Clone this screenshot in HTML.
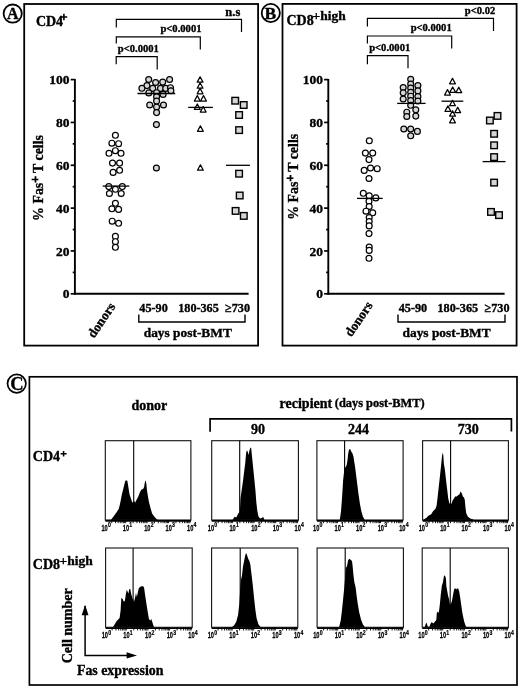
<!DOCTYPE html><html><head><meta charset="utf-8"><style>html,body{margin:0;padding:0;background:#fff;overflow:hidden}svg{display:block;filter:grayscale(1)}text{font-family:"Liberation Serif",serif;font-weight:bold;fill:#000;stroke:#000;stroke-width:0.35px}.s{font-family:"Liberation Sans",sans-serif;font-weight:bold;stroke-width:0.25px}</style></head><body>
<svg width="520" height="688" viewBox="0 0 520 688">
<rect width="520" height="688" fill="#fff"/>
<rect x="24.2" y="4" width="233.9" height="341.6" fill="none" stroke="#000" stroke-width="1.8"/>
<circle cx="12.7" cy="13.6" r="9.1" fill="#fff" stroke="#000" stroke-width="1.8"/>
<text x="12.70" y="18.90" font-size="16" text-anchor="middle" >A</text>
<text x="35.90" y="26.10" font-size="14" text-anchor="start" >CD4</text>
<path d="M60.6 17H67.2M63.9 13.8V20.2" stroke="#000" stroke-width="1.6"/>
<path d="M74.90 79.00L74.90 294.70" stroke="#000" stroke-width="1.9" fill="none"/>
<path d="M74.00 293.80L248.60 293.80" stroke="#000" stroke-width="1.9" fill="none"/>
<path d="M70.70 293.80L74.90 293.80" stroke="#000" stroke-width="1.7" fill="none"/>
<text x="69.60" y="298.40" font-size="13.5" text-anchor="end" >0</text>
<path d="M70.70 250.96L74.90 250.96" stroke="#000" stroke-width="1.7" fill="none"/>
<text x="69.60" y="255.56" font-size="13.5" text-anchor="end" >20</text>
<path d="M70.70 208.12L74.90 208.12" stroke="#000" stroke-width="1.7" fill="none"/>
<text x="69.60" y="212.72" font-size="13.5" text-anchor="end" >40</text>
<path d="M70.70 165.28L74.90 165.28" stroke="#000" stroke-width="1.7" fill="none"/>
<text x="69.60" y="169.88" font-size="13.5" text-anchor="end" >60</text>
<path d="M70.70 122.44L74.90 122.44" stroke="#000" stroke-width="1.7" fill="none"/>
<text x="69.60" y="127.04" font-size="13.5" text-anchor="end" >80</text>
<path d="M70.70 79.60L74.90 79.60" stroke="#000" stroke-width="1.7" fill="none"/>
<text x="69.60" y="84.20" font-size="13.5" text-anchor="end" >100</text>
<path d="M72.70 272.38L74.90 272.38" stroke="#000" stroke-width="1.7" fill="none"/>
<path d="M72.70 229.54L74.90 229.54" stroke="#000" stroke-width="1.7" fill="none"/>
<path d="M72.70 186.70L74.90 186.70" stroke="#000" stroke-width="1.7" fill="none"/>
<path d="M72.70 143.86L74.90 143.86" stroke="#000" stroke-width="1.7" fill="none"/>
<path d="M72.70 101.02L74.90 101.02" stroke="#000" stroke-width="1.7" fill="none"/>
<text transform="translate(43.4,178.0) rotate(-90)" font-size="13.9" text-anchor="middle">% Fas<tspan dy="-4.2" font-size="11.5" style="stroke-width:0.9px">+</tspan><tspan dy="4.2"> T cells</tspan></text>
<path d="M116.30 27.50L116.30 19.40L241.50 19.40L241.50 31.90" stroke="#000" stroke-width="1.2" fill="none"/>
<text x="240.30" y="15.80" font-size="12.5" text-anchor="end" >n.s</text>
<path d="M116.30 43.50L116.30 36.80L200.30 36.80L200.30 49.60" stroke="#000" stroke-width="1.2" fill="none"/>
<text x="201.50" y="32.20" font-size="10.6" text-anchor="end" >p&lt;0.0001</text>
<path d="M116.20 64.30L116.20 56.60L157.20 56.60L157.20 69.50" stroke="#000" stroke-width="1.2" fill="none"/>
<text x="117.80" y="51.50" font-size="10.6" text-anchor="start" >p&lt;0.0001</text>
<circle cx="115.4" cy="135.3" r="2.95" fill="#fff" stroke="#000" stroke-width="1.2"/>
<circle cx="111.9" cy="143.2" r="2.95" fill="#fff" stroke="#000" stroke-width="1.2"/>
<circle cx="118.6" cy="143.7" r="2.95" fill="#fff" stroke="#000" stroke-width="1.2"/>
<circle cx="115.4" cy="150.7" r="2.95" fill="#fff" stroke="#000" stroke-width="1.2"/>
<circle cx="109.0" cy="153.3" r="2.95" fill="#fff" stroke="#000" stroke-width="1.2"/>
<circle cx="121.0" cy="153.3" r="2.95" fill="#fff" stroke="#000" stroke-width="1.2"/>
<circle cx="112.5" cy="163.1" r="2.95" fill="#fff" stroke="#000" stroke-width="1.2"/>
<circle cx="119.6" cy="163.1" r="2.95" fill="#fff" stroke="#000" stroke-width="1.2"/>
<circle cx="119.6" cy="170.3" r="2.95" fill="#fff" stroke="#000" stroke-width="1.2"/>
<circle cx="113.1" cy="172.4" r="2.95" fill="#fff" stroke="#000" stroke-width="1.2"/>
<circle cx="108.8" cy="186.6" r="2.95" fill="#fff" stroke="#000" stroke-width="1.2"/>
<circle cx="122.3" cy="186.6" r="2.95" fill="#fff" stroke="#000" stroke-width="1.2"/>
<circle cx="115.4" cy="189.3" r="2.95" fill="#fff" stroke="#000" stroke-width="1.2"/>
<circle cx="109.4" cy="193.5" r="2.95" fill="#fff" stroke="#000" stroke-width="1.2"/>
<circle cx="121.2" cy="193.5" r="2.95" fill="#fff" stroke="#000" stroke-width="1.2"/>
<circle cx="115.4" cy="203.3" r="2.95" fill="#fff" stroke="#000" stroke-width="1.2"/>
<circle cx="111.9" cy="208.8" r="2.95" fill="#fff" stroke="#000" stroke-width="1.2"/>
<circle cx="118.6" cy="209.4" r="2.95" fill="#fff" stroke="#000" stroke-width="1.2"/>
<circle cx="112.2" cy="221.2" r="2.95" fill="#fff" stroke="#000" stroke-width="1.2"/>
<circle cx="118.6" cy="223.3" r="2.95" fill="#fff" stroke="#000" stroke-width="1.2"/>
<circle cx="115.4" cy="236.4" r="2.95" fill="#fff" stroke="#000" stroke-width="1.2"/>
<circle cx="115.4" cy="241.7" r="2.95" fill="#fff" stroke="#000" stroke-width="1.2"/>
<circle cx="115.4" cy="247.3" r="2.95" fill="#fff" stroke="#000" stroke-width="1.2"/>
<path d="M102.70 186.10L129.30 186.10" stroke="#000" stroke-width="1.3" fill="none"/>
<circle cx="148.7" cy="79.5" r="2.95" fill="#d6d6d6" stroke="#000" stroke-width="1.2"/>
<circle cx="169.6" cy="79.5" r="2.95" fill="#d6d6d6" stroke="#000" stroke-width="1.2"/>
<circle cx="155.6" cy="82.5" r="2.95" fill="#d6d6d6" stroke="#000" stroke-width="1.2"/>
<circle cx="162.7" cy="82.1" r="2.95" fill="#d6d6d6" stroke="#000" stroke-width="1.2"/>
<circle cx="146.9" cy="85.6" r="2.95" fill="#d6d6d6" stroke="#000" stroke-width="1.2"/>
<circle cx="141.9" cy="88.3" r="2.95" fill="#d6d6d6" stroke="#000" stroke-width="1.2"/>
<circle cx="152.7" cy="88.4" r="2.95" fill="#d6d6d6" stroke="#000" stroke-width="1.2"/>
<circle cx="160.5" cy="88.4" r="2.95" fill="#d6d6d6" stroke="#000" stroke-width="1.2"/>
<circle cx="165.7" cy="88.4" r="2.95" fill="#d6d6d6" stroke="#000" stroke-width="1.2"/>
<circle cx="170.5" cy="87.7" r="2.95" fill="#d6d6d6" stroke="#000" stroke-width="1.2"/>
<circle cx="170.9" cy="90.8" r="2.95" fill="#d6d6d6" stroke="#000" stroke-width="1.2"/>
<circle cx="148.8" cy="92.9" r="2.95" fill="#d6d6d6" stroke="#000" stroke-width="1.2"/>
<circle cx="156.6" cy="92.7" r="2.95" fill="#d6d6d6" stroke="#000" stroke-width="1.2"/>
<circle cx="163.1" cy="94.4" r="2.95" fill="#d6d6d6" stroke="#000" stroke-width="1.2"/>
<circle cx="156.6" cy="96.8" r="2.95" fill="#d6d6d6" stroke="#000" stroke-width="1.2"/>
<circle cx="156.6" cy="101.1" r="2.95" fill="#d6d6d6" stroke="#000" stroke-width="1.2"/>
<circle cx="149.7" cy="105.0" r="2.95" fill="#d6d6d6" stroke="#000" stroke-width="1.2"/>
<circle cx="163.5" cy="105.0" r="2.95" fill="#d6d6d6" stroke="#000" stroke-width="1.2"/>
<circle cx="156.6" cy="107.0" r="2.95" fill="#d6d6d6" stroke="#000" stroke-width="1.2"/>
<circle cx="156.6" cy="112.6" r="2.95" fill="#d6d6d6" stroke="#000" stroke-width="1.2"/>
<circle cx="156.4" cy="124.6" r="2.95" fill="#d6d6d6" stroke="#000" stroke-width="1.2"/>
<circle cx="156.4" cy="168.0" r="2.95" fill="#d6d6d6" stroke="#000" stroke-width="1.2"/>
<path d="M137.50 93.50L175.20 93.50" stroke="#000" stroke-width="1.3" fill="none"/>
<path d="M200.1 76.7L203.0 82.1L197.2 82.1Z" fill="#fff" stroke="#000" stroke-width="1.25" stroke-linejoin="round"/>
<path d="M200.1 82.8L203.0 88.2L197.2 88.2Z" fill="#fff" stroke="#000" stroke-width="1.25" stroke-linejoin="round"/>
<path d="M200.1 88.4L203.0 93.8L197.2 93.8Z" fill="#fff" stroke="#000" stroke-width="1.25" stroke-linejoin="round"/>
<path d="M197.3 95.6L200.2 101.0L194.4 101.0Z" fill="#fff" stroke="#000" stroke-width="1.25" stroke-linejoin="round"/>
<path d="M203.5 95.6L206.4 101.0L200.6 101.0Z" fill="#fff" stroke="#000" stroke-width="1.25" stroke-linejoin="round"/>
<path d="M197.3 104.0L200.2 109.4L194.4 109.4Z" fill="#fff" stroke="#000" stroke-width="1.25" stroke-linejoin="round"/>
<path d="M203.2 106.6L206.1 112.0L200.3 112.0Z" fill="#fff" stroke="#000" stroke-width="1.25" stroke-linejoin="round"/>
<path d="M200.4 125.9L203.3 131.3L197.5 131.3Z" fill="#fff" stroke="#000" stroke-width="1.25" stroke-linejoin="round"/>
<path d="M200.4 164.8L203.3 170.2L197.5 170.2Z" fill="#fff" stroke="#000" stroke-width="1.25" stroke-linejoin="round"/>
<path d="M188.20 107.40L212.90 107.40" stroke="#000" stroke-width="1.3" fill="none"/>
<rect x="231.9" y="97.4" width="6.6" height="6.6" fill="#d6d6d6" stroke="#000" stroke-width="1.4"/>
<rect x="240.4" y="101.7" width="6.6" height="6.6" fill="#d6d6d6" stroke="#000" stroke-width="1.4"/>
<rect x="235.8" y="111.7" width="6.6" height="6.6" fill="#d6d6d6" stroke="#000" stroke-width="1.4"/>
<rect x="235.8" y="126.8" width="6.6" height="6.6" fill="#d6d6d6" stroke="#000" stroke-width="1.4"/>
<rect x="235.8" y="170.4" width="6.6" height="6.6" fill="#d6d6d6" stroke="#000" stroke-width="1.4"/>
<rect x="236.4" y="192.2" width="6.6" height="6.6" fill="#d6d6d6" stroke="#000" stroke-width="1.4"/>
<rect x="232.3" y="207.6" width="6.6" height="6.6" fill="#d6d6d6" stroke="#000" stroke-width="1.4"/>
<rect x="240.5" y="212.6" width="6.6" height="6.6" fill="#d6d6d6" stroke="#000" stroke-width="1.4"/>
<path d="M226.00 165.30L249.90 165.30" stroke="#000" stroke-width="1.3" fill="none"/>
<text transform="translate(101.2,320.1) rotate(-56)" font-size="13.2" text-anchor="middle" dominant-baseline="central">donors</text>
<text x="139.30" y="312.30" font-size="12.2" text-anchor="start" >45-90</text>
<text x="178.20" y="312.30" font-size="12.2" text-anchor="start" >180-365</text>
<text x="225.00" y="312.30" font-size="12.2" text-anchor="start" >≥730</text>
<path d="M138.80 314.40L138.80 322.00L245.00 322.00L245.00 314.40" stroke="#000" stroke-width="1.4" fill="none"/>
<text x="143.70" y="337.40" font-size="13.4" text-anchor="start" >days post-BMT</text>
<rect x="282.5" y="3.9" width="234.1" height="341.7" fill="none" stroke="#000" stroke-width="1.8"/>
<circle cx="270.8" cy="13" r="9.1" fill="#fff" stroke="#000" stroke-width="1.8"/>
<text x="270.40" y="18.80" font-size="17.5" text-anchor="middle" >B</text>
<text x="286.50" y="24.50" font-size="14" text-anchor="start" >CD8</text>
<text x="312.60" y="19.50" font-size="13.5" text-anchor="start" >+high</text>
<path d="M328.30 79.00L328.30 294.70" stroke="#000" stroke-width="1.9" fill="none"/>
<path d="M327.40 293.80L504.60 293.80" stroke="#000" stroke-width="1.9" fill="none"/>
<path d="M324.10 293.80L328.30 293.80" stroke="#000" stroke-width="1.7" fill="none"/>
<text x="323.00" y="298.40" font-size="13.5" text-anchor="end" >0</text>
<path d="M324.10 250.96L328.30 250.96" stroke="#000" stroke-width="1.7" fill="none"/>
<text x="323.00" y="255.56" font-size="13.5" text-anchor="end" >20</text>
<path d="M324.10 208.12L328.30 208.12" stroke="#000" stroke-width="1.7" fill="none"/>
<text x="323.00" y="212.72" font-size="13.5" text-anchor="end" >40</text>
<path d="M324.10 165.28L328.30 165.28" stroke="#000" stroke-width="1.7" fill="none"/>
<text x="323.00" y="169.88" font-size="13.5" text-anchor="end" >60</text>
<path d="M324.10 122.44L328.30 122.44" stroke="#000" stroke-width="1.7" fill="none"/>
<text x="323.00" y="127.04" font-size="13.5" text-anchor="end" >80</text>
<path d="M324.10 79.60L328.30 79.60" stroke="#000" stroke-width="1.7" fill="none"/>
<text x="323.00" y="84.20" font-size="13.5" text-anchor="end" >100</text>
<path d="M326.10 272.38L328.30 272.38" stroke="#000" stroke-width="1.7" fill="none"/>
<path d="M326.10 229.54L328.30 229.54" stroke="#000" stroke-width="1.7" fill="none"/>
<path d="M326.10 186.70L328.30 186.70" stroke="#000" stroke-width="1.7" fill="none"/>
<path d="M326.10 143.86L328.30 143.86" stroke="#000" stroke-width="1.7" fill="none"/>
<path d="M326.10 101.02L328.30 101.02" stroke="#000" stroke-width="1.7" fill="none"/>
<text transform="translate(298.4,176.8) rotate(-90)" font-size="13.9" text-anchor="middle">% Fas<tspan dy="-4.2" font-size="11.5" style="stroke-width:0.9px">+</tspan><tspan dy="4.2"> T cells</tspan></text>
<path d="M367.40 26.50L367.40 18.40L493.50 18.40L493.50 31.10" stroke="#000" stroke-width="1.2" fill="none"/>
<text x="495.30" y="13.80" font-size="10.6" text-anchor="end" >p&lt;0.02</text>
<path d="M367.40 43.40L367.40 36.00L451.70 36.00L451.70 48.40" stroke="#000" stroke-width="1.2" fill="none"/>
<text x="451.70" y="30.70" font-size="10.6" text-anchor="end" >p&lt;0.0001</text>
<path d="M367.40 64.20L367.40 55.70L408.00 55.70L408.00 68.30" stroke="#000" stroke-width="1.2" fill="none"/>
<text x="369.20" y="51.20" font-size="10.6" text-anchor="start" >p&lt;0.0001</text>
<circle cx="369.3" cy="140.8" r="2.95" fill="#fff" stroke="#000" stroke-width="1.2"/>
<circle cx="365.4" cy="153.1" r="2.95" fill="#fff" stroke="#000" stroke-width="1.2"/>
<circle cx="372.7" cy="153.1" r="2.95" fill="#fff" stroke="#000" stroke-width="1.2"/>
<circle cx="369.0" cy="159.6" r="2.95" fill="#fff" stroke="#000" stroke-width="1.2"/>
<circle cx="364.2" cy="170.4" r="2.95" fill="#fff" stroke="#000" stroke-width="1.2"/>
<circle cx="370.5" cy="168.0" r="2.95" fill="#fff" stroke="#000" stroke-width="1.2"/>
<circle cx="377.2" cy="168.7" r="2.95" fill="#fff" stroke="#000" stroke-width="1.2"/>
<circle cx="369.0" cy="178.5" r="2.95" fill="#fff" stroke="#000" stroke-width="1.2"/>
<circle cx="363.3" cy="193.3" r="2.95" fill="#fff" stroke="#000" stroke-width="1.2"/>
<circle cx="369.2" cy="195.8" r="2.95" fill="#fff" stroke="#000" stroke-width="1.2"/>
<circle cx="375.8" cy="197.9" r="2.95" fill="#fff" stroke="#000" stroke-width="1.2"/>
<circle cx="369.0" cy="201.3" r="2.95" fill="#fff" stroke="#000" stroke-width="1.2"/>
<circle cx="369.2" cy="206.5" r="2.95" fill="#fff" stroke="#000" stroke-width="1.2"/>
<circle cx="366.0" cy="211.2" r="2.95" fill="#fff" stroke="#000" stroke-width="1.2"/>
<circle cx="372.7" cy="212.8" r="2.95" fill="#fff" stroke="#000" stroke-width="1.2"/>
<circle cx="369.2" cy="217.5" r="2.95" fill="#fff" stroke="#000" stroke-width="1.2"/>
<circle cx="369.2" cy="221.5" r="2.95" fill="#fff" stroke="#000" stroke-width="1.2"/>
<circle cx="369.2" cy="225.9" r="2.95" fill="#fff" stroke="#000" stroke-width="1.2"/>
<circle cx="369.0" cy="233.6" r="2.95" fill="#fff" stroke="#000" stroke-width="1.2"/>
<circle cx="369.2" cy="247.0" r="2.95" fill="#fff" stroke="#000" stroke-width="1.2"/>
<circle cx="369.2" cy="250.4" r="2.95" fill="#fff" stroke="#000" stroke-width="1.2"/>
<circle cx="369.0" cy="258.3" r="2.95" fill="#fff" stroke="#000" stroke-width="1.2"/>
<path d="M357.00 198.40L382.70 198.40" stroke="#000" stroke-width="1.3" fill="none"/>
<circle cx="410.7" cy="79.3" r="2.95" fill="#d6d6d6" stroke="#000" stroke-width="1.2"/>
<circle cx="410.7" cy="84.1" r="2.95" fill="#d6d6d6" stroke="#000" stroke-width="1.2"/>
<circle cx="410.7" cy="88.0" r="2.95" fill="#d6d6d6" stroke="#000" stroke-width="1.2"/>
<circle cx="410.7" cy="92.3" r="2.95" fill="#d6d6d6" stroke="#000" stroke-width="1.2"/>
<circle cx="410.7" cy="96.2" r="2.95" fill="#d6d6d6" stroke="#000" stroke-width="1.2"/>
<circle cx="410.7" cy="100.5" r="2.95" fill="#d6d6d6" stroke="#000" stroke-width="1.2"/>
<circle cx="410.7" cy="105.3" r="2.95" fill="#d6d6d6" stroke="#000" stroke-width="1.2"/>
<circle cx="403.2" cy="87.5" r="2.95" fill="#d6d6d6" stroke="#000" stroke-width="1.2"/>
<circle cx="403.2" cy="92.8" r="2.95" fill="#d6d6d6" stroke="#000" stroke-width="1.2"/>
<circle cx="403.2" cy="99.0" r="2.95" fill="#d6d6d6" stroke="#000" stroke-width="1.2"/>
<circle cx="417.9" cy="85.6" r="2.95" fill="#d6d6d6" stroke="#000" stroke-width="1.2"/>
<circle cx="417.9" cy="90.9" r="2.95" fill="#d6d6d6" stroke="#000" stroke-width="1.2"/>
<circle cx="417.9" cy="96.6" r="2.95" fill="#d6d6d6" stroke="#000" stroke-width="1.2"/>
<circle cx="417.9" cy="101.0" r="2.95" fill="#d6d6d6" stroke="#000" stroke-width="1.2"/>
<circle cx="406.8" cy="112.2" r="2.95" fill="#d6d6d6" stroke="#000" stroke-width="1.2"/>
<circle cx="406.8" cy="116.5" r="2.95" fill="#d6d6d6" stroke="#000" stroke-width="1.2"/>
<circle cx="415.8" cy="109.8" r="2.95" fill="#d6d6d6" stroke="#000" stroke-width="1.2"/>
<circle cx="415.8" cy="116.1" r="2.95" fill="#d6d6d6" stroke="#000" stroke-width="1.2"/>
<circle cx="403.8" cy="129.0" r="2.95" fill="#d6d6d6" stroke="#000" stroke-width="1.2"/>
<circle cx="410.7" cy="129.0" r="2.95" fill="#d6d6d6" stroke="#000" stroke-width="1.2"/>
<circle cx="417.4" cy="131.4" r="2.95" fill="#d6d6d6" stroke="#000" stroke-width="1.2"/>
<circle cx="410.7" cy="135.8" r="2.95" fill="#d6d6d6" stroke="#000" stroke-width="1.2"/>
<path d="M397.20 103.40L425.60 103.40" stroke="#000" stroke-width="1.3" fill="none"/>
<path d="M452.5 78.4L455.4 83.8L449.6 83.8Z" fill="#fff" stroke="#000" stroke-width="1.25" stroke-linejoin="round"/>
<path d="M452.7 87.0L455.6 92.4L449.8 92.4Z" fill="#fff" stroke="#000" stroke-width="1.25" stroke-linejoin="round"/>
<path d="M458.8 87.2L461.7 92.6L455.9 92.6Z" fill="#fff" stroke="#000" stroke-width="1.25" stroke-linejoin="round"/>
<path d="M447.5 89.6L450.4 95.0L444.6 95.0Z" fill="#fff" stroke="#000" stroke-width="1.25" stroke-linejoin="round"/>
<path d="M452.5 100.3L455.4 105.7L449.6 105.7Z" fill="#fff" stroke="#000" stroke-width="1.25" stroke-linejoin="round"/>
<path d="M447.9 105.9L450.8 111.3L445.0 111.3Z" fill="#fff" stroke="#000" stroke-width="1.25" stroke-linejoin="round"/>
<path d="M457.7 107.2L460.6 112.6L454.8 112.6Z" fill="#fff" stroke="#000" stroke-width="1.25" stroke-linejoin="round"/>
<path d="M452.5 110.7L455.4 116.1L449.6 116.1Z" fill="#fff" stroke="#000" stroke-width="1.25" stroke-linejoin="round"/>
<path d="M452.5 117.4L455.4 122.8L449.6 122.8Z" fill="#fff" stroke="#000" stroke-width="1.25" stroke-linejoin="round"/>
<path d="M441.50 101.20L463.30 101.20" stroke="#000" stroke-width="1.3" fill="none"/>
<rect x="494.2" y="112.6" width="6.6" height="6.6" fill="#d6d6d6" stroke="#000" stroke-width="1.4"/>
<rect x="486.6" y="117.2" width="6.6" height="6.6" fill="#d6d6d6" stroke="#000" stroke-width="1.4"/>
<rect x="490.8" y="130.5" width="6.6" height="6.6" fill="#d6d6d6" stroke="#000" stroke-width="1.4"/>
<rect x="490.8" y="142.0" width="6.6" height="6.6" fill="#d6d6d6" stroke="#000" stroke-width="1.4"/>
<rect x="490.8" y="153.8" width="6.6" height="6.6" fill="#d6d6d6" stroke="#000" stroke-width="1.4"/>
<rect x="490.8" y="179.3" width="6.6" height="6.6" fill="#d6d6d6" stroke="#000" stroke-width="1.4"/>
<rect x="487.7" y="208.6" width="6.6" height="6.6" fill="#d6d6d6" stroke="#000" stroke-width="1.4"/>
<rect x="495.7" y="211.8" width="6.6" height="6.6" fill="#d6d6d6" stroke="#000" stroke-width="1.4"/>
<path d="M482.60 161.60L505.50 161.60" stroke="#000" stroke-width="1.3" fill="none"/>
<text transform="translate(358.5,318.9) rotate(-56)" font-size="13.2" text-anchor="middle" dominant-baseline="central">donors</text>
<text x="398.70" y="312.30" font-size="12.2" text-anchor="start" >45-90</text>
<text x="437.50" y="312.30" font-size="12.2" text-anchor="start" >180-365</text>
<text x="484.50" y="312.30" font-size="12.2" text-anchor="start" >≥730</text>
<path d="M398.00 314.40L398.00 322.00L505.00 322.00L505.00 314.40" stroke="#000" stroke-width="1.4" fill="none"/>
<text x="402.50" y="337.40" font-size="13.4" text-anchor="start" >days post-BMT</text>
<rect x="29.4" y="376.8" width="487.6" height="308.2" fill="none" stroke="#000" stroke-width="1.7"/>
<circle cx="16.7" cy="383.6" r="9.2" fill="#fff" stroke="#000" stroke-width="1.7"/>
<text x="16.90" y="390.20" font-size="18.5" text-anchor="middle" >C</text>
<text x="131.50" y="410.20" font-size="14" text-anchor="start" >donor</text>
<text x="279.60" y="407.50" font-size="14" text-anchor="start" >recipient</text>
<text x="334.80" y="406.60" font-size="12.4" text-anchor="start" >(days post-BMT)</text>
<path d="M210.10 431.80L210.10 418.90L511.40 418.90L511.40 431.40" stroke="#000" stroke-width="1.7" fill="none"/>
<text x="258.00" y="434.20" font-size="14" text-anchor="middle" >90</text>
<text x="358.50" y="433.80" font-size="14" text-anchor="middle" >244</text>
<text x="468.30" y="433.90" font-size="14" text-anchor="middle" >730</text>
<text x="32.80" y="460.80" font-size="14" text-anchor="start" >CD4</text>
<path d="M60.6 453.7H66.6M63.6 450.9V456.4" stroke="#000" stroke-width="1.5"/>
<text x="32.80" y="569.30" font-size="14" text-anchor="start" >CD8</text>
<text x="59.50" y="564.80" font-size="13.5" text-anchor="start" >+high</text>
<path d="M110.80 520.00L110.80 520.00L113.50 516.50L116.60 512.30L118.70 509.10L119.80 504.90L120.90 499.60L121.90 494.30L123.50 488.00L125.10 481.60L125.60 480.60L127.20 480.60L127.70 482.70L128.50 488.00L129.50 494.30L130.90 498.60L132.00 501.70L133.00 502.80L134.10 500.70L135.10 502.80L136.70 499.60L138.30 496.40L139.90 492.20L141.50 489.60L143.10 489.00L144.10 486.90L145.00 481.60L145.70 480.60L146.50 484.80L146.80 489.00L147.80 495.40L148.90 501.70L150.50 508.10L152.10 513.40L154.20 516.50L156.80 519.20L158.00 520.00L158.00 520.00Z" fill="#000"/>
<rect x="105.30" y="440.70" width="85.60" height="79.30" fill="none" stroke="#111" stroke-width="1.1"/>
<path d="M133.70 440.70L133.70 520.00" stroke="#000" stroke-width="1.1" fill="none"/>
<path d="M111.74 520.00v3.2M115.51 520.00v3.2M118.18 520.00v3.2M120.26 520.00v3.2M121.95 520.00v3.2M123.39 520.00v3.2M124.63 520.00v3.2M125.72 520.00v3.2M133.14 520.00v3.2M136.91 520.00v3.2M139.58 520.00v3.2M141.66 520.00v3.2M143.35 520.00v3.2M144.79 520.00v3.2M146.03 520.00v3.2M147.12 520.00v3.2M154.54 520.00v3.2M158.31 520.00v3.2M160.98 520.00v3.2M163.06 520.00v3.2M164.75 520.00v3.2M166.19 520.00v3.2M167.43 520.00v3.2M168.52 520.00v3.2M175.94 520.00v3.2M179.71 520.00v3.2M182.38 520.00v3.2M184.46 520.00v3.2M186.15 520.00v3.2M187.59 520.00v3.2M188.83 520.00v3.2M189.92 520.00v3.2" stroke="#000" stroke-width="0.9"/>
<path d="M105.30 520.90L190.90 520.90" stroke="#000" stroke-width="1.6" fill="none"/>
<text class="s" transform="translate(101.40,531.00) scale(0.66 1)" font-size="8.6">10</text>
<text class="s" transform="translate(107.90,527.20) scale(0.72 1)" font-size="7.2">0</text>
<text class="s" transform="translate(122.80,531.00) scale(0.66 1)" font-size="8.6">10</text>
<text class="s" transform="translate(129.30,527.20) scale(0.72 1)" font-size="7.2">1</text>
<text class="s" transform="translate(144.20,531.00) scale(0.66 1)" font-size="8.6">10</text>
<text class="s" transform="translate(150.70,527.20) scale(0.72 1)" font-size="7.2">2</text>
<text class="s" transform="translate(165.60,531.00) scale(0.66 1)" font-size="8.6">10</text>
<text class="s" transform="translate(172.10,527.20) scale(0.72 1)" font-size="7.2">3</text>
<text class="s" transform="translate(187.00,531.00) scale(0.66 1)" font-size="8.6">10</text>
<text class="s" transform="translate(193.50,527.20) scale(0.72 1)" font-size="7.2">4</text>
<path d="M232.80 520.00L232.80 519.50L234.50 516.80L236.30 517.40L238.10 513.80L239.90 511.40L240.50 498.30L241.70 490.00L242.90 481.70L244.10 472.10L245.30 462.60L246.10 453.10L246.80 450.50L247.60 451.30L248.50 454.90L249.40 450.70L250.40 447.40L251.20 448.30L251.80 454.30L253.00 466.20L254.20 478.10L255.40 490.00L256.30 501.90L257.20 510.20L258.40 516.20L260.10 518.60L261.90 518.00L263.10 516.80L264.30 519.50L264.30 520.00Z" fill="#000"/>
<rect x="211.70" y="440.70" width="86.70" height="79.30" fill="none" stroke="#111" stroke-width="1.1"/>
<path d="M239.70 440.70L239.70 520.00" stroke="#000" stroke-width="1.1" fill="none"/>
<path d="M218.22 520.00v3.2M222.04 520.00v3.2M224.75 520.00v3.2M226.85 520.00v3.2M228.57 520.00v3.2M230.02 520.00v3.2M231.27 520.00v3.2M232.38 520.00v3.2M239.90 520.00v3.2M243.72 520.00v3.2M246.42 520.00v3.2M248.53 520.00v3.2M250.24 520.00v3.2M251.69 520.00v3.2M252.95 520.00v3.2M254.06 520.00v3.2M261.57 520.00v3.2M265.39 520.00v3.2M268.10 520.00v3.2M270.20 520.00v3.2M271.92 520.00v3.2M273.37 520.00v3.2M274.62 520.00v3.2M275.73 520.00v3.2M283.25 520.00v3.2M287.07 520.00v3.2M289.77 520.00v3.2M291.88 520.00v3.2M293.59 520.00v3.2M295.04 520.00v3.2M296.30 520.00v3.2M297.41 520.00v3.2" stroke="#000" stroke-width="0.9"/>
<path d="M211.70 520.90L298.40 520.90" stroke="#000" stroke-width="1.6" fill="none"/>
<text class="s" transform="translate(207.80,531.00) scale(0.66 1)" font-size="8.6">10</text>
<text class="s" transform="translate(214.30,527.20) scale(0.72 1)" font-size="7.2">0</text>
<text class="s" transform="translate(229.47,531.00) scale(0.66 1)" font-size="8.6">10</text>
<text class="s" transform="translate(235.97,527.20) scale(0.72 1)" font-size="7.2">1</text>
<text class="s" transform="translate(251.15,531.00) scale(0.66 1)" font-size="8.6">10</text>
<text class="s" transform="translate(257.65,527.20) scale(0.72 1)" font-size="7.2">2</text>
<text class="s" transform="translate(272.82,531.00) scale(0.66 1)" font-size="8.6">10</text>
<text class="s" transform="translate(279.32,527.20) scale(0.72 1)" font-size="7.2">3</text>
<text class="s" transform="translate(294.50,531.00) scale(0.66 1)" font-size="8.6">10</text>
<text class="s" transform="translate(301.00,527.20) scale(0.72 1)" font-size="7.2">4</text>
<path d="M339.80 520.00L339.80 519.50L341.00 511.40L342.10 497.10L343.10 480.50L343.90 473.30L344.50 467.40L345.50 467.40L346.70 465.00L347.50 460.20L348.10 454.30L349.00 449.50L350.20 448.90L351.10 451.30L352.60 453.70L353.50 456.70L354.00 460.20L355.00 466.20L356.20 475.70L357.40 485.20L358.60 494.80L360.00 504.30L361.40 511.40L363.00 516.80L364.50 519.50L364.50 520.00Z" fill="#000"/>
<rect x="316.90" y="440.70" width="86.20" height="79.30" fill="none" stroke="#111" stroke-width="1.1"/>
<path d="M344.60 440.70L344.60 520.00" stroke="#000" stroke-width="1.1" fill="none"/>
<path d="M323.39 520.00v3.2M327.18 520.00v3.2M329.87 520.00v3.2M331.96 520.00v3.2M333.67 520.00v3.2M335.11 520.00v3.2M336.36 520.00v3.2M337.46 520.00v3.2M344.94 520.00v3.2M348.73 520.00v3.2M351.42 520.00v3.2M353.51 520.00v3.2M355.22 520.00v3.2M356.66 520.00v3.2M357.91 520.00v3.2M359.01 520.00v3.2M366.49 520.00v3.2M370.28 520.00v3.2M372.97 520.00v3.2M375.06 520.00v3.2M376.77 520.00v3.2M378.21 520.00v3.2M379.46 520.00v3.2M380.56 520.00v3.2M388.04 520.00v3.2M391.83 520.00v3.2M394.52 520.00v3.2M396.61 520.00v3.2M398.32 520.00v3.2M399.76 520.00v3.2M401.01 520.00v3.2M402.11 520.00v3.2" stroke="#000" stroke-width="0.9"/>
<path d="M316.90 520.90L403.10 520.90" stroke="#000" stroke-width="1.6" fill="none"/>
<text class="s" transform="translate(313.00,531.00) scale(0.66 1)" font-size="8.6">10</text>
<text class="s" transform="translate(319.50,527.20) scale(0.72 1)" font-size="7.2">0</text>
<text class="s" transform="translate(334.55,531.00) scale(0.66 1)" font-size="8.6">10</text>
<text class="s" transform="translate(341.05,527.20) scale(0.72 1)" font-size="7.2">1</text>
<text class="s" transform="translate(356.10,531.00) scale(0.66 1)" font-size="8.6">10</text>
<text class="s" transform="translate(362.60,527.20) scale(0.72 1)" font-size="7.2">2</text>
<text class="s" transform="translate(377.65,531.00) scale(0.66 1)" font-size="8.6">10</text>
<text class="s" transform="translate(384.15,527.20) scale(0.72 1)" font-size="7.2">3</text>
<text class="s" transform="translate(399.20,531.00) scale(0.66 1)" font-size="8.6">10</text>
<text class="s" transform="translate(405.70,527.20) scale(0.72 1)" font-size="7.2">4</text>
<path d="M423.70 520.00L423.70 519.50L426.50 517.80L428.70 515.60L431.00 514.50L433.20 511.10L435.40 508.90L436.60 505.50L437.70 496.50L438.80 486.40L439.90 476.40L441.00 466.30L441.90 457.30L442.50 452.80L443.30 455.10L443.80 462.90L445.00 470.80L446.10 480.80L447.20 489.80L448.30 498.80L449.40 503.30L450.60 504.40L451.70 503.30L452.80 499.90L453.90 498.80L455.00 496.50L456.70 496.50L457.80 495.40L459.50 494.30L460.60 491.50L461.80 493.20L462.90 496.50L464.00 497.60L464.80 499.90L465.50 507.70L466.20 513.30L467.90 516.70L470.20 518.40L473.50 519.50L473.50 520.00Z" fill="#000"/>
<rect x="422.60" y="440.70" width="85.80" height="79.30" fill="none" stroke="#111" stroke-width="1.1"/>
<path d="M450.60 440.70L450.60 520.00" stroke="#000" stroke-width="1.1" fill="none"/>
<path d="M429.06 520.00v3.2M432.83 520.00v3.2M435.51 520.00v3.2M437.59 520.00v3.2M439.29 520.00v3.2M440.73 520.00v3.2M441.97 520.00v3.2M443.07 520.00v3.2M450.51 520.00v3.2M454.28 520.00v3.2M456.96 520.00v3.2M459.04 520.00v3.2M460.74 520.00v3.2M462.18 520.00v3.2M463.42 520.00v3.2M464.52 520.00v3.2M471.96 520.00v3.2M475.73 520.00v3.2M478.41 520.00v3.2M480.49 520.00v3.2M482.19 520.00v3.2M483.63 520.00v3.2M484.87 520.00v3.2M485.97 520.00v3.2M493.41 520.00v3.2M497.18 520.00v3.2M499.86 520.00v3.2M501.94 520.00v3.2M503.64 520.00v3.2M505.08 520.00v3.2M506.32 520.00v3.2M507.42 520.00v3.2" stroke="#000" stroke-width="0.9"/>
<path d="M422.60 520.90L508.40 520.90" stroke="#000" stroke-width="1.6" fill="none"/>
<text class="s" transform="translate(418.70,531.00) scale(0.66 1)" font-size="8.6">10</text>
<text class="s" transform="translate(425.20,527.20) scale(0.72 1)" font-size="7.2">0</text>
<text class="s" transform="translate(440.15,531.00) scale(0.66 1)" font-size="8.6">10</text>
<text class="s" transform="translate(446.65,527.20) scale(0.72 1)" font-size="7.2">1</text>
<text class="s" transform="translate(461.60,531.00) scale(0.66 1)" font-size="8.6">10</text>
<text class="s" transform="translate(468.10,527.20) scale(0.72 1)" font-size="7.2">2</text>
<text class="s" transform="translate(483.05,531.00) scale(0.66 1)" font-size="8.6">10</text>
<text class="s" transform="translate(489.55,527.20) scale(0.72 1)" font-size="7.2">3</text>
<text class="s" transform="translate(504.50,531.00) scale(0.66 1)" font-size="8.6">10</text>
<text class="s" transform="translate(511.00,527.20) scale(0.72 1)" font-size="7.2">4</text>
<path d="M112.90 627.30L112.90 627.20L116.70 621.00L119.60 618.10L120.60 610.40L121.30 597.90L122.50 598.80L123.90 601.70L124.90 600.80L125.90 594.00L126.80 589.70L127.80 592.10L128.50 593.60L129.20 589.20L130.20 588.80L131.20 594.00L132.60 598.80L134.00 601.70L135.20 596.90L136.00 593.10L136.90 596.90L137.90 592.10L138.80 588.30L140.30 586.80L141.70 586.20L143.20 586.30L144.10 587.80L145.10 595.00L146.10 601.70L147.50 610.40L148.90 619.00L150.40 620.50L151.30 619.00L152.30 621.90L153.80 626.70L155.20 627.30L155.20 627.30Z" fill="#000"/>
<rect x="105.60" y="548.00" width="86.60" height="79.30" fill="none" stroke="#111" stroke-width="1.1"/>
<path d="M133.10 548.00L133.10 627.30" stroke="#000" stroke-width="1.1" fill="none"/>
<path d="M112.12 627.30v3.2M115.93 627.30v3.2M118.63 627.30v3.2M120.73 627.30v3.2M122.45 627.30v3.2M123.90 627.30v3.2M125.15 627.30v3.2M126.26 627.30v3.2M133.77 627.30v3.2M137.58 627.30v3.2M140.28 627.30v3.2M142.38 627.30v3.2M144.10 627.30v3.2M145.55 627.30v3.2M146.80 627.30v3.2M147.91 627.30v3.2M155.42 627.30v3.2M159.23 627.30v3.2M161.93 627.30v3.2M164.03 627.30v3.2M165.75 627.30v3.2M167.20 627.30v3.2M168.45 627.30v3.2M169.56 627.30v3.2M177.07 627.30v3.2M180.88 627.30v3.2M183.58 627.30v3.2M185.68 627.30v3.2M187.40 627.30v3.2M188.85 627.30v3.2M190.10 627.30v3.2M191.21 627.30v3.2" stroke="#000" stroke-width="0.9"/>
<path d="M105.60 628.20L192.20 628.20" stroke="#000" stroke-width="1.6" fill="none"/>
<text class="s" transform="translate(101.70,638.30) scale(0.66 1)" font-size="8.6">10</text>
<text class="s" transform="translate(108.20,634.50) scale(0.72 1)" font-size="7.2">0</text>
<text class="s" transform="translate(123.35,638.30) scale(0.66 1)" font-size="8.6">10</text>
<text class="s" transform="translate(129.85,634.50) scale(0.72 1)" font-size="7.2">1</text>
<text class="s" transform="translate(145.00,638.30) scale(0.66 1)" font-size="8.6">10</text>
<text class="s" transform="translate(151.50,634.50) scale(0.72 1)" font-size="7.2">2</text>
<text class="s" transform="translate(166.65,638.30) scale(0.66 1)" font-size="8.6">10</text>
<text class="s" transform="translate(173.15,634.50) scale(0.72 1)" font-size="7.2">3</text>
<text class="s" transform="translate(188.30,638.30) scale(0.66 1)" font-size="8.6">10</text>
<text class="s" transform="translate(194.80,634.50) scale(0.72 1)" font-size="7.2">4</text>
<path d="M231.60 627.30L231.60 627.20L234.00 625.40L236.30 621.80L238.10 614.70L239.30 604.00L240.30 587.30L240.90 580.10L242.00 575.40L242.90 567.00L244.10 561.10L245.30 555.10L246.10 553.00L247.00 555.10L248.20 558.70L249.40 561.10L250.40 564.70L250.90 569.40L251.80 576.60L253.00 587.30L254.20 599.20L255.40 609.90L256.60 618.20L258.40 624.20L260.70 627.20L260.70 627.30Z" fill="#000"/>
<rect x="211.60" y="548.00" width="86.20" height="79.30" fill="none" stroke="#111" stroke-width="1.1"/>
<path d="M240.20 548.00L240.20 627.30" stroke="#000" stroke-width="1.1" fill="none"/>
<path d="M218.09 627.30v3.2M221.88 627.30v3.2M224.57 627.30v3.2M226.66 627.30v3.2M228.37 627.30v3.2M229.81 627.30v3.2M231.06 627.30v3.2M232.16 627.30v3.2M239.64 627.30v3.2M243.43 627.30v3.2M246.12 627.30v3.2M248.21 627.30v3.2M249.92 627.30v3.2M251.36 627.30v3.2M252.61 627.30v3.2M253.71 627.30v3.2M261.19 627.30v3.2M264.98 627.30v3.2M267.67 627.30v3.2M269.76 627.30v3.2M271.47 627.30v3.2M272.91 627.30v3.2M274.16 627.30v3.2M275.26 627.30v3.2M282.74 627.30v3.2M286.53 627.30v3.2M289.22 627.30v3.2M291.31 627.30v3.2M293.02 627.30v3.2M294.46 627.30v3.2M295.71 627.30v3.2M296.81 627.30v3.2" stroke="#000" stroke-width="0.9"/>
<path d="M211.60 628.20L297.80 628.20" stroke="#000" stroke-width="1.6" fill="none"/>
<text class="s" transform="translate(207.70,638.30) scale(0.66 1)" font-size="8.6">10</text>
<text class="s" transform="translate(214.20,634.50) scale(0.72 1)" font-size="7.2">0</text>
<text class="s" transform="translate(229.25,638.30) scale(0.66 1)" font-size="8.6">10</text>
<text class="s" transform="translate(235.75,634.50) scale(0.72 1)" font-size="7.2">1</text>
<text class="s" transform="translate(250.80,638.30) scale(0.66 1)" font-size="8.6">10</text>
<text class="s" transform="translate(257.30,634.50) scale(0.72 1)" font-size="7.2">2</text>
<text class="s" transform="translate(272.35,638.30) scale(0.66 1)" font-size="8.6">10</text>
<text class="s" transform="translate(278.85,634.50) scale(0.72 1)" font-size="7.2">3</text>
<text class="s" transform="translate(293.90,638.30) scale(0.66 1)" font-size="8.6">10</text>
<text class="s" transform="translate(300.40,634.50) scale(0.72 1)" font-size="7.2">4</text>
<path d="M339.00 627.30L339.00 627.40L340.70 620.60L341.90 611.10L343.10 599.20L344.30 587.30L345.30 575.40L345.90 567.60L346.70 567.00L347.50 563.50L348.20 559.90L349.40 558.70L350.90 559.90L352.00 561.10L352.60 565.90L353.50 575.40L354.40 582.50L355.60 587.30L356.60 595.60L357.80 604.00L359.20 612.30L361.00 619.40L362.80 624.20L365.10 627.40L365.10 627.30Z" fill="#000"/>
<rect x="317.10" y="548.00" width="86.30" height="79.30" fill="none" stroke="#111" stroke-width="1.1"/>
<path d="M345.20 548.00L345.20 627.30" stroke="#000" stroke-width="1.1" fill="none"/>
<path d="M323.59 627.30v3.2M327.39 627.30v3.2M330.09 627.30v3.2M332.18 627.30v3.2M333.89 627.30v3.2M335.33 627.30v3.2M336.58 627.30v3.2M337.69 627.30v3.2M345.17 627.30v3.2M348.97 627.30v3.2M351.66 627.30v3.2M353.76 627.30v3.2M355.46 627.30v3.2M356.91 627.30v3.2M358.16 627.30v3.2M359.26 627.30v3.2M366.74 627.30v3.2M370.54 627.30v3.2M373.24 627.30v3.2M375.33 627.30v3.2M377.04 627.30v3.2M378.48 627.30v3.2M379.73 627.30v3.2M380.84 627.30v3.2M388.32 627.30v3.2M392.12 627.30v3.2M394.81 627.30v3.2M396.91 627.30v3.2M398.61 627.30v3.2M400.06 627.30v3.2M401.31 627.30v3.2M402.41 627.30v3.2" stroke="#000" stroke-width="0.9"/>
<path d="M317.10 628.20L403.40 628.20" stroke="#000" stroke-width="1.6" fill="none"/>
<text class="s" transform="translate(313.20,638.30) scale(0.66 1)" font-size="8.6">10</text>
<text class="s" transform="translate(319.70,634.50) scale(0.72 1)" font-size="7.2">0</text>
<text class="s" transform="translate(334.78,638.30) scale(0.66 1)" font-size="8.6">10</text>
<text class="s" transform="translate(341.28,634.50) scale(0.72 1)" font-size="7.2">1</text>
<text class="s" transform="translate(356.35,638.30) scale(0.66 1)" font-size="8.6">10</text>
<text class="s" transform="translate(362.85,634.50) scale(0.72 1)" font-size="7.2">2</text>
<text class="s" transform="translate(377.93,638.30) scale(0.66 1)" font-size="8.6">10</text>
<text class="s" transform="translate(384.43,634.50) scale(0.72 1)" font-size="7.2">3</text>
<text class="s" transform="translate(399.50,638.30) scale(0.66 1)" font-size="8.6">10</text>
<text class="s" transform="translate(406.00,634.50) scale(0.72 1)" font-size="7.2">4</text>
<path d="M424.50 627.30L424.50 627.70L425.60 624.20L426.60 622.60L427.60 626.20L429.10 627.20L430.70 623.60L431.70 622.10L433.20 623.60L434.70 622.10L436.30 620.10L436.80 613.00L437.80 611.40L438.80 613.00L439.80 604.80L440.80 594.60L441.90 585.50L442.90 582.40L443.90 576.30L444.90 575.30L445.90 578.30L446.40 586.50L447.50 592.60L448.30 596.70L449.00 598.70L450.00 604.80L451.00 603.80L452.00 600.70L453.10 594.60L454.10 589.50L455.10 588.00L456.10 589.50L457.10 588.50L458.20 588.50L459.20 591.60L460.20 597.70L461.20 604.80L462.20 611.90L463.20 617.00L464.30 622.10L465.80 626.20L467.30 627.70L467.30 627.30Z" fill="#000"/>
<rect x="422.20" y="548.00" width="86.20" height="79.30" fill="none" stroke="#111" stroke-width="1.1"/>
<path d="M450.20 548.00L450.20 627.30" stroke="#000" stroke-width="1.1" fill="none"/>
<path d="M428.69 627.30v3.2M432.48 627.30v3.2M435.17 627.30v3.2M437.26 627.30v3.2M438.97 627.30v3.2M440.41 627.30v3.2M441.66 627.30v3.2M442.76 627.30v3.2M450.24 627.30v3.2M454.03 627.30v3.2M456.72 627.30v3.2M458.81 627.30v3.2M460.52 627.30v3.2M461.96 627.30v3.2M463.21 627.30v3.2M464.31 627.30v3.2M471.79 627.30v3.2M475.58 627.30v3.2M478.27 627.30v3.2M480.36 627.30v3.2M482.07 627.30v3.2M483.51 627.30v3.2M484.76 627.30v3.2M485.86 627.30v3.2M493.34 627.30v3.2M497.13 627.30v3.2M499.82 627.30v3.2M501.91 627.30v3.2M503.62 627.30v3.2M505.06 627.30v3.2M506.31 627.30v3.2M507.41 627.30v3.2" stroke="#000" stroke-width="0.9"/>
<path d="M422.20 628.20L508.40 628.20" stroke="#000" stroke-width="1.6" fill="none"/>
<text class="s" transform="translate(418.30,638.30) scale(0.66 1)" font-size="8.6">10</text>
<text class="s" transform="translate(424.80,634.50) scale(0.72 1)" font-size="7.2">0</text>
<text class="s" transform="translate(439.85,638.30) scale(0.66 1)" font-size="8.6">10</text>
<text class="s" transform="translate(446.35,634.50) scale(0.72 1)" font-size="7.2">1</text>
<text class="s" transform="translate(461.40,638.30) scale(0.66 1)" font-size="8.6">10</text>
<text class="s" transform="translate(467.90,634.50) scale(0.72 1)" font-size="7.2">2</text>
<text class="s" transform="translate(482.95,638.30) scale(0.66 1)" font-size="8.6">10</text>
<text class="s" transform="translate(489.45,634.50) scale(0.72 1)" font-size="7.2">3</text>
<text class="s" transform="translate(504.50,638.30) scale(0.66 1)" font-size="8.6">10</text>
<text class="s" transform="translate(511.00,634.50) scale(0.72 1)" font-size="7.2">4</text>
<path d="M85.10 606.00L85.10 655.40L130.00 655.40" stroke="#000" stroke-width="1.5" fill="none"/>
<path d="M85.1 604.7L81.7 615.2L88.5 615.2Z" fill="#000"/>
<path d="M137 655.4L126.6 652.2L126.6 658.6Z" fill="#000"/>
<text transform="translate(72.2,625.8) rotate(-90)" font-size="14" text-anchor="middle">Cell number</text>
<text x="76.90" y="674.50" font-size="13.9" text-anchor="start" >Fas expression</text>
</svg></body></html>
